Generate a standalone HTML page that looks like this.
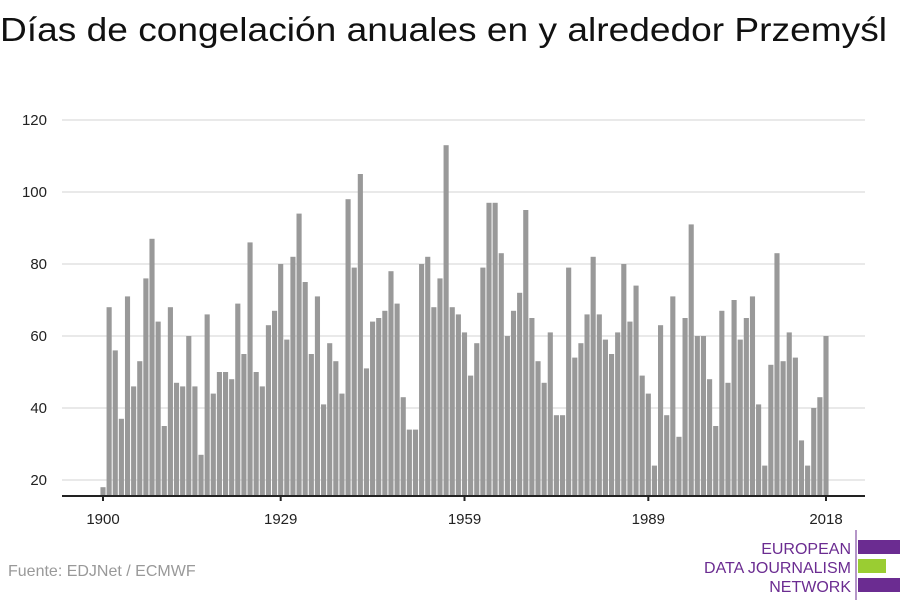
<!DOCTYPE html><html><head><meta charset="utf-8"><style>body{margin:0;background:#fff;font-family:"Liberation Sans",sans-serif}</style></head><body>
<svg id="s" width="900" height="600" xmlns="http://www.w3.org/2000/svg" font-family="Liberation Sans, sans-serif">
<text x="0" y="41" font-size="33" fill="#111" textLength="887" lengthAdjust="spacingAndGlyphs">Días de congelación anuales en y alrededor Przemyśl</text>
<g id="grid"></g><g id="bars"></g>
<line x1="62" y1="496" x2="865" y2="496" stroke="#222" stroke-width="2"/>
<g id="xl" font-size="15" fill="#222" text-anchor="middle"></g>
<text x="8" y="576" font-size="16" fill="#999">Fuente: EDJNet / ECMWF</text>
<g font-size="16" fill="#6b2c91" text-anchor="end"><text x="851" y="554">EUROPEAN</text><text x="851" y="573">DATA JOURNALISM</text><text x="851" y="592">NETWORK</text></g>
<line x1="856" y1="530" x2="856" y2="600" stroke="#6b2c91" stroke-width="1"/>
<rect x="858" y="540" width="42" height="14" fill="#6b2c91"/><rect x="858" y="559" width="28" height="14" fill="#9acd32"/><rect x="858" y="578" width="42" height="14" fill="#6b2c91"/>
</svg>
<script>
var v=[18,68,56,37,71,46,53,76,87,64,35,68,47,46,60,46,27,66,44,50,50,48,69,55,86,50,46,63,67,80,59,82,94,75,55,71,41,58,53,44,98,79,105,51,64,65,67,78,69,43,34,34,80,82,68,76,113,68,66,61,49,58,79,97,97,83,60,67,72,95,65,53,47,61,38,38,79,54,58,66,82,66,59,55,61,80,64,74,49,44,24,63,38,71,32,65,91,60,60,48,35,67,47,70,59,65,71,41,24,52,83,53,61,54,31,24,40,43,60];
var ns="http://www.w3.org/2000/svg",g=document.getElementById('grid'),b=document.getElementById('bars'),xl=document.getElementById('xl');
function el(t,a,p){var e=document.createElementNS(ns,t);for(var k in a)e.setAttribute(k,a[k]);p.appendChild(e);return e}
for(var t=20;t<=120;t+=20){var y=480-(t-20)*3.6;el('line',{x1:62,x2:865,y1:y,y2:y,stroke:'#e2e2e2','stroke-width':1.5},g);var tx=el('text',{x:47,y:y+5,'font-size':15,fill:'#222','text-anchor':'end'},g);tx.textContent=t;}
var dx=(826-103)/118;
v.forEach(function(d,i){var cx=103+i*dx,y=480-(d-20)*3.6;el('rect',{x:cx-dx/2+0.5,y:y,width:dx-1,height:496-y,fill:'#999'},b)});
[1900,1929,1959,1989,2018].forEach(function(yr){var cx=103+(yr-1900)*dx;el('line',{x1:cx,x2:cx,y1:496,y2:501,stroke:'#222','stroke-width':2},xl);var tx=el('text',{x:cx,y:524},xl);tx.textContent=yr;});
</script></body></html>
